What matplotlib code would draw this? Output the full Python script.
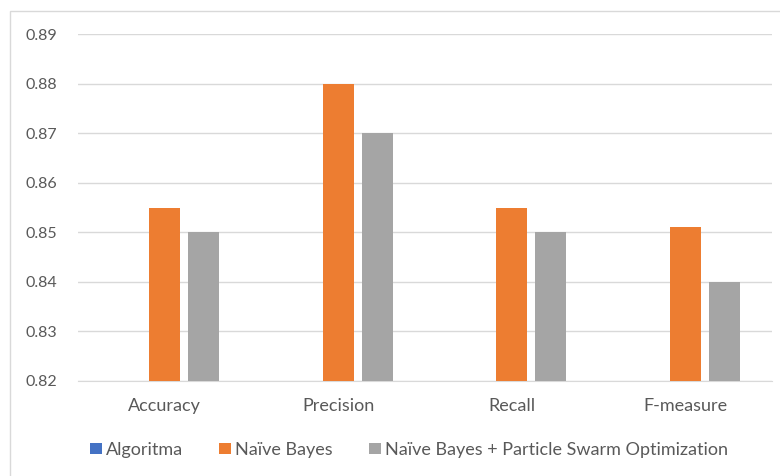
import numpy as np
import matplotlib
matplotlib.use("Agg")
import matplotlib.pyplot as plt
from matplotlib.patches import Rectangle

# data
categories = ["Accuracy", "Precision", "Recall", "F-measure"]
series_names = ["Algoritma", "Naïve Bayes", "Naïve Bayes + Particle Swarm Optimization"]
algoritma = [0, 0, 0, 0]
naive_bayes = [0.855, 0.88, 0.855, 0.851]
nb_pso = [0.85, 0.87, 0.85, 0.84]
y_ticks = [0.82, 0.83, 0.84, 0.85, 0.86, 0.87, 0.88, 0.89]

colors = ["#4472C4", "#ED7D31", "#A5A5A5"]
plt.rcParams["font.family"] = ["Lato", "DejaVu Sans"]

W, H = 780, 476
fig = plt.figure(figsize=(W / 100, H / 100), dpi=100)
# plot area in pixels: x 78..772, y 34..381
ax = fig.add_axes([78 / W, 1 - 381 / H, (772 - 78) / W, (381 - 34) / H])

# outer chart border (right/bottom cut off in the reference)
fig.patches.append(Rectangle((10 / W, -0.1), 1.2, 1 - 11 / H + 0.1,
                             transform=fig.transFigure, fill=False,
                             edgecolor="#D9D9D9", lw=1))

x = np.arange(len(categories))
step, bw = 0.225, 0.18
for i, (vals, name) in enumerate(zip([algoritma, naive_bayes, nb_pso], series_names)):
    ax.bar(x + (i - 1) * step, vals, width=bw, color=colors[i], label=name, zorder=3)

ax.set_xlim(-0.5, len(categories) - 0.5)
ax.set_ylim(0.82, 0.89)
ax.set_yticks(y_ticks)
ax.set_yticklabels([f"{v:.2f}" for v in y_ticks])
ax.set_xticks(x)
ax.set_xticklabels(categories)
ax.tick_params(axis="both", length=0, colors="#595959")
ax.tick_params(axis="y", pad=15, labelsize=11.5)
ax.tick_params(axis="x", pad=12, labelsize=13)
ax.grid(axis="y", color="#D9D9D9", lw=1, zorder=0)
for s in ["top", "right", "left"]:
    ax.spines[s].set_visible(False)
ax.spines["bottom"].set_color("#D9D9D9")

leg = fig.legend(loc="center left", bbox_to_anchor=(90 / W, 1 - 450 / H), ncol=3,
                 frameon=False, fontsize=13, handlelength=0.66, handleheight=0.6,
                 handletextpad=0.22, columnspacing=2.0, borderpad=0,
                 borderaxespad=0)
for t in leg.get_texts():
    t.set_color("#595959")

fig.savefig("out.png", dpi=100)
